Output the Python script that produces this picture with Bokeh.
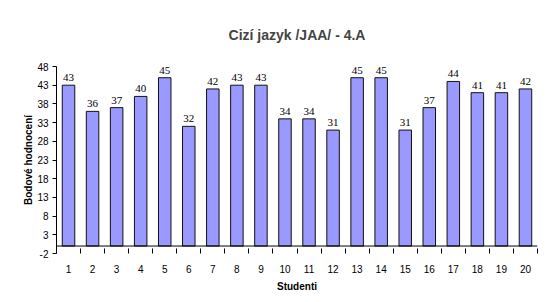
from bokeh.plotting import figure
from bokeh.models import FixedTicker, Span, ColumnDataSource, LabelSet, Range1d
from bokeh.embed import file_html
from bokeh.resources import INLINE

students = [str(i) for i in range(1, 21)]
scores = [43, 36, 37, 40, 45, 32, 42, 43, 43, 34, 34, 31, 45, 45, 31, 37, 44, 41, 41, 42]
y_ticks = [-2, 3, 8, 13, 18, 23, 28, 33, 38, 43, 48]

xs = list(range(1, len(students) + 1))
src = ColumnDataSource(dict(x=xs, y=scores, lbl=[str(v) for v in scores]))

FONT = "Liberation Sans"
W, H = 539, 294
p = figure(width=W, height=H, output_backend="svg", toolbar_location=None,
           x_range=Range1d(0.5, len(students) + 0.5), y_range=Range1d(-2, 48),
           min_border_left=56, min_border_right=2, min_border_top=66, min_border_bottom=39)
p.outline_line_color = None
p.xgrid.visible = False
p.ygrid.visible = False

p.title.text = "Cizí jazyk /JAA/ - 4.A"
p.title.align = "center"
p.title.text_font = FONT
p.title.text_font_size = "14px"
p.title.text_font_style = "bold"
p.title.standoff = 47

p.vbar(x="x", top="y", bottom=0, width=0.52, source=src,
       fill_color="#9999FF", line_color="#111111", line_width=1)
p.add_layout(Span(location=0, dimension="width", line_color="#000000", line_width=1))

p.add_layout(LabelSet(x="x", y="y", text="lbl", source=src, text_align="center",
                      text_baseline="bottom", y_offset=4, text_font=FONT,
                      text_font_size="11px", text_color="#000000"))

p.xaxis.ticker = FixedTicker(ticks=xs, minor_ticks=[v + 0.5 for v in range(0, len(students) + 1)])
p.xaxis.major_label_overrides = {x: s for x, s in zip(xs, students)}
p.xaxis.axis_line_color = None
p.xaxis.major_tick_out = 0
p.xaxis.major_tick_in = 0
p.xaxis.minor_tick_out = 0
p.xaxis.minor_tick_in = 5
p.xaxis.axis_label = "Studenti"

p.yaxis.ticker = FixedTicker(ticks=y_ticks)
p.yaxis.major_label_overrides = {t: str(t) for t in y_ticks}
p.yaxis.axis_line_color = "#000000"
p.yaxis.major_tick_out = 4
p.yaxis.major_tick_in = 0
p.yaxis.minor_tick_out = 0
p.yaxis.minor_tick_in = 0
p.yaxis.axis_label = "Bodové hodnocení"

for ax in (p.xaxis, p.yaxis):
    ax.major_tick_line_color = "#000000"
    ax.minor_tick_line_color = "#000000"
    ax.major_label_text_font = FONT
    ax.major_label_text_font_size = "10px"
    ax.major_label_text_color = "#000000"
    ax.axis_label_text_font = FONT
    ax.axis_label_text_font_size = "10px"
    ax.axis_label_text_font_style = "bold"
    ax.axis_label_text_color = "#000000"

p.xaxis.major_label_standoff = 11
p.xaxis.axis_label_standoff = 5
p.yaxis.major_label_standoff = 4
p.yaxis.axis_label_standoff = 0

open("out.html", "w").write(file_html(p, INLINE))
